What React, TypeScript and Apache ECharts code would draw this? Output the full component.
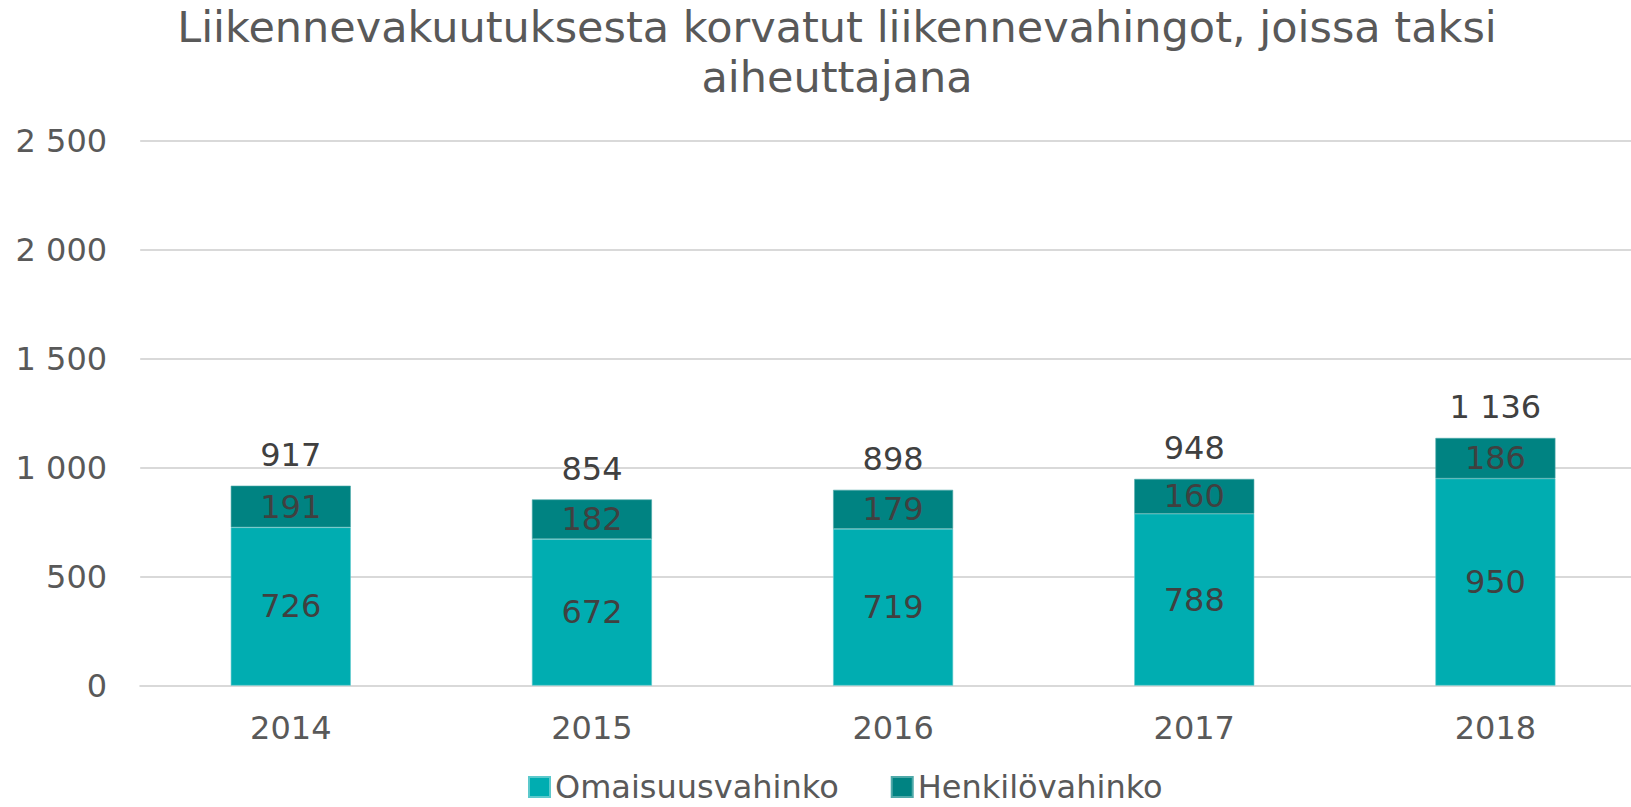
import React, { useEffect, useRef } from "react";
import * as echarts from "echarts";

const years = ["2014", "2015", "2016", "2017", "2018"];
const omaisuus = [726, 672, 719, 788, 950];
const henkilo = [191, 182, 179, 160, 186];
const totals = [917, 854, 898, 948, 1136];

const fmt = (v: number) => {
  const s = String(Math.round(v));
  return s.replace(/\B(?=(\d{3})+(?!\d))/g, " ");
};

const FONT = "DejaVu Sans";

export default function App() {
  const ref = useRef<HTMLDivElement>(null);
  useEffect(() => {
    document.body.style.margin = "0";
    document.body.style.overflow = "hidden";
    const chart = echarts.init(ref.current!, undefined, { renderer: "svg" });
    chart.setOption({
      animation: false,
      backgroundColor: "#ffffff",
      title: {
        text: "Liikennevakuutuksesta korvatut liikennevahingot, joissa taksi\naiheuttajana",
        left: 837,
        top: 2,
        padding: 0,
        textAlign: "center",
        textStyle: {
          fontFamily: FONT,
          fontSize: 43,
          fontWeight: "normal",
          color: "#595959",
          lineHeight: 50,
        },
      },
      legend: {
        data: ["Omaisuusvahinko", "Henkilövahinko"],
        left: 528,
        top: 771,
        padding: 0,
        itemWidth: 21,
        itemHeight: 20,
        itemGap: 52,
        icon: "rect",
        textStyle: { fontFamily: FONT, fontSize: 32, color: "#595959", lineHeight: 24 },
      },
      grid: { left: 140.2, top: 140.6, right: 0, height: 545 },
      xAxis: {
        type: "category",
        data: years,
        axisLine: { lineStyle: { color: "#D9D9D9", width: 2 } },
        axisTick: { show: false },
        axisLabel: {
          fontFamily: FONT,
          fontSize: 32,
          lineHeight: 32,
          color: "#595959",
          margin: 26,
        },
      },
      yAxis: {
        type: "value",
        min: 0,
        max: 2500,
        interval: 500,
        axisLine: { show: false },
        axisTick: { show: false },
        splitLine: { lineStyle: { color: "#D9D9D9", width: 2 } },
        axisLabel: {
          fontFamily: FONT,
          fontSize: 32,
          color: "#595959",
          margin: 33,
          formatter: (v: number) => fmt(v),
        },
      },
      series: [
        {
          name: "Omaisuusvahinko",
          type: "bar",
          stack: "a",
          barWidth: 120,
          data: omaisuus,
          itemStyle: { color: "#00ADB1", borderColor: "#5CC9CC", borderWidth: 0.6 },
          label: {
            show: true,
            position: "inside",
            fontFamily: FONT,
            fontSize: 32,
            color: "#404040",
            formatter: (p: any) => fmt(p.value),
          },
        },
        {
          name: "Henkilövahinko",
          type: "bar",
          stack: "a",
          barWidth: 120,
          data: henkilo,
          itemStyle: { color: "#008382", borderColor: "#4FA9A9", borderWidth: 0.6 },
          label: {
            show: true,
            position: "inside",
            fontFamily: FONT,
            fontSize: 32,
            color: "#404040",
            formatter: (p: any) => fmt(p.value),
          },
        },
        {
          name: "Yhteensä",
          type: "scatter",
          data: totals,
          symbolSize: 1,
          itemStyle: { color: "rgba(0,0,0,0)", opacity: 1 },
          silent: true,
          label: {
            show: true,
            position: "top",
            distance: 14,
            fontFamily: FONT,
            fontSize: 32,
            color: "#404040",
            opacity: 1,
            formatter: (p: any) => fmt(p.value),
          },
        },
      ],
    });
    return () => chart.dispose();
  }, []);
  return <div ref={ref} style={{ width: 1646, height: 807 }} />;
}
